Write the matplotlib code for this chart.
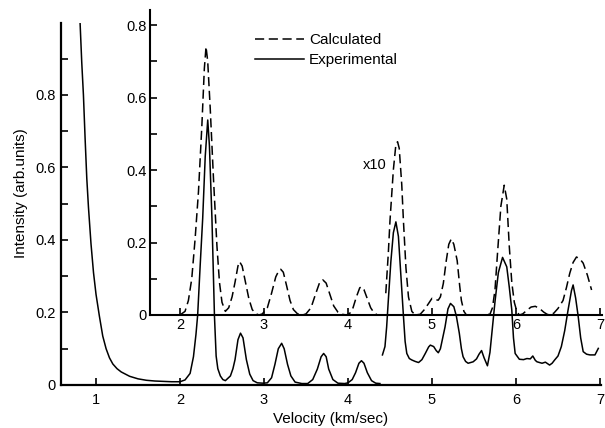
import matplotlib
matplotlib.use("Agg")
import matplotlib.pyplot as plt
from matplotlib.lines import Line2D

plt.rcParams['font.family'] = ['Liberation Sans', 'DejaVu Sans']

# ---------------- data ----------------
# Experimental, main axes (0 - 4.4 km/s)
exp_low_v = [0.81, 0.83, 0.85, 0.87, 0.89, 0.91, 0.94, 0.97, 1.00, 1.04, 1.08, 1.12, 1.16, 1.20,
             1.25, 1.30, 1.35, 1.40, 1.50, 1.60, 1.70, 1.80, 1.90, 2.00, 2.06, 2.12, 2.16, 2.19,
             2.21, 2.24, 2.27, 2.30, 2.33, 2.35, 2.38, 2.41, 2.43, 2.45, 2.48, 2.51, 2.54, 2.60,
             2.63, 2.655, 2.69, 2.72, 2.75, 2.79, 2.83, 2.87, 2.92, 2.99, 3.04, 3.09, 3.13, 3.17,
             3.21, 3.24, 3.28, 3.32, 3.37, 3.45, 3.52, 3.58, 3.635, 3.68, 3.71, 3.74, 3.77, 3.82,
             3.88, 3.96, 4.00, 4.05, 4.09, 4.13, 4.16, 4.19, 4.23, 4.28, 4.33, 4.38]
exp_low_i = [1.00, 0.89, 0.80, 0.68, 0.57, 0.49, 0.39, 0.31, 0.25, 0.19, 0.135, 0.10, 0.075, 0.058,
             0.045, 0.036, 0.030, 0.024, 0.017, 0.013, 0.011, 0.010, 0.009, 0.009, 0.014, 0.032, 0.078, 0.14,
             0.193, 0.33, 0.46, 0.63, 0.731, 0.66, 0.46, 0.19, 0.08, 0.045, 0.025, 0.015, 0.012, 0.025,
             0.045, 0.07, 0.125, 0.143, 0.13, 0.07, 0.03, 0.012, 0.006, 0.005, 0.006, 0.02, 0.057, 0.10,
             0.115, 0.10, 0.057, 0.025, 0.008, 0.004, 0.004, 0.015, 0.044, 0.078, 0.087, 0.078, 0.044, 0.015,
             0.005, 0.004, 0.006, 0.015, 0.034, 0.06, 0.067, 0.06, 0.034, 0.012, 0.005, 0.004]

# Experimental, x10 region (main axes)
exp_high_v = [4.41, 4.44, 4.46, 4.48, 4.51, 4.54, 4.57, 4.60, 4.63, 4.66, 4.68, 4.70, 4.73, 4.76,
              4.80, 4.84, 4.88, 4.92, 4.96, 4.98, 5.02, 5.05, 5.075, 5.10, 5.155, 5.19, 5.22, 5.26,
              5.29, 5.325, 5.35, 5.37, 5.40, 5.43, 5.46, 5.49, 5.53, 5.56, 5.59, 5.62, 5.66, 5.69,
              5.72, 5.75, 5.79, 5.84, 5.89, 5.92, 5.95, 5.97, 5.99, 6.04, 6.09, 6.13, 6.17, 6.20,
              6.23, 6.25, 6.28, 6.31, 6.35, 6.40, 6.43, 6.46, 6.50, 6.54, 6.58, 6.62, 6.66, 6.68,
              6.71, 6.74, 6.77, 6.80, 6.84, 6.88, 6.94, 6.98]
exp_high_i = [0.083, 0.106, 0.16, 0.234, 0.34, 0.42, 0.45, 0.41, 0.30, 0.19, 0.12, 0.087, 0.073, 0.069,
              0.065, 0.062, 0.07, 0.087, 0.105, 0.11, 0.106, 0.095, 0.089, 0.10, 0.16, 0.21, 0.225, 0.216,
              0.19, 0.143, 0.10, 0.078, 0.065, 0.06, 0.062, 0.064, 0.072, 0.085, 0.095, 0.075, 0.053, 0.09,
              0.16, 0.23, 0.31, 0.352, 0.326, 0.27, 0.207, 0.13, 0.087, 0.071, 0.07, 0.073, 0.072, 0.08,
              0.068, 0.064, 0.062, 0.06, 0.063, 0.055, 0.06, 0.069, 0.08, 0.106, 0.15, 0.207, 0.26, 0.276,
              0.24, 0.19, 0.13, 0.092, 0.085, 0.083, 0.083, 0.101]

# Calculated, inset axes (2 - 4.35 km/s)
calc_low_v = [2.00, 2.06, 2.10, 2.14, 2.18, 2.22, 2.26, 2.29, 2.31, 2.33, 2.36, 2.40, 2.44, 2.47,
              2.50, 2.54, 2.58, 2.62, 2.655, 2.69, 2.71, 2.74, 2.78, 2.82, 2.86, 2.90, 2.94, 2.98,
              3.04, 3.09, 3.14, 3.18, 3.20, 3.23, 3.27, 3.31, 3.35, 3.40, 3.46, 3.50, 3.56, 3.61,
              3.66, 3.70, 3.74, 3.78, 3.83, 3.88, 3.93, 3.98, 4.02, 4.06, 4.10, 4.14, 4.16, 4.19,
              4.23, 4.27, 4.31, 4.35]
calc_low_i = [0.0, 0.01, 0.04, 0.10, 0.21, 0.34, 0.52, 0.68, 0.74, 0.70, 0.57, 0.37, 0.19, 0.09,
              0.035, 0.01, 0.02, 0.05, 0.09, 0.135, 0.147, 0.135, 0.09, 0.045, 0.015, 0.004, 0.0, 0.003,
              0.02, 0.06, 0.105, 0.124, 0.126, 0.118, 0.08, 0.04, 0.015, 0.003, 0.0, 0.003, 0.02, 0.055,
              0.088, 0.097, 0.088, 0.06, 0.025, 0.008, 0.002, 0.0, 0.004, 0.02, 0.05, 0.075, 0.078, 0.07,
              0.045, 0.02, 0.006, 0.0]

# Calculated, x10 region (inset axes)
calc_high_v = [4.45, 4.48, 4.50, 4.54, 4.57, 4.59, 4.61, 4.64, 4.66, 4.69, 4.72, 4.76, 4.80, 4.86,
               4.91, 4.96, 5.00, 5.04, 5.075, 5.10, 5.135, 5.17, 5.20, 5.23, 5.26, 5.30, 5.33, 5.35,
               5.38, 5.41, 5.50, 5.60, 5.69, 5.72, 5.75, 5.78, 5.82, 5.86, 5.89, 5.92, 5.95, 5.98,
               6.01, 6.04, 6.08, 6.13, 6.18, 6.23, 6.28, 6.33, 6.37, 6.40, 6.45, 6.50, 6.56, 6.60,
               6.64, 6.68, 6.72, 6.76, 6.80, 6.85, 6.90]
calc_high_i = [0.06, 0.17, 0.26, 0.40, 0.47, 0.478, 0.46, 0.36, 0.26, 0.13, 0.05, 0.01, 0.0, 0.002,
               0.015, 0.032, 0.046, 0.042, 0.041, 0.05, 0.087, 0.15, 0.195, 0.21, 0.195, 0.15, 0.08, 0.04,
               0.01, 0.0, 0.0, 0.0, 0.002, 0.02, 0.069, 0.17, 0.30, 0.358, 0.32, 0.19, 0.09, 0.035,
               0.01, 0.0, 0.003, 0.013, 0.022, 0.024, 0.018, 0.008, 0.002, 0.0, 0.005, 0.018, 0.04, 0.075,
               0.115, 0.145, 0.16, 0.155, 0.143, 0.11, 0.069]

main_xticks = [1, 2, 3, 4, 5, 6, 7]
main_yticks = [0, 0.2, 0.4, 0.6, 0.8]
main_ytick_labels = ['0', '0.2', '0.4', '0.6', '0.8']
main_yminor = [0.1, 0.3, 0.5, 0.7, 0.9]
inset_xticks = [2, 3, 4, 5, 6, 7]
inset_yticks = [0, 0.2, 0.4, 0.6, 0.8]
inset_ytick_labels = ['0', '0.2', '0.4', '0.6', '0.8']
inset_yminor = [0.1, 0.3, 0.5, 0.7]
legend_labels = ['Calculated', 'Experimental']
x_label = 'Velocity (km/sec)'
y_label = 'Intensity (arb.units)'
scale_note = 'x10'

# ---------------- figure ----------------
W, H = 605, 428
fig = plt.figure(figsize=(W / 100, H / 100), dpi=100)
fig.patch.set_facecolor('white')

FS = 10.5
LW = 1.1
DASH = (6, 3)

ax = fig.add_axes([61 / W, 43 / H, 540 / W, 362 / H])
ax.plot(exp_low_v, exp_low_i, color='black', lw=LW)
ax.plot(exp_high_v, exp_high_i, color='black', lw=LW)
ax.set_xlim(0.583, 7.012)
ax.set_ylim(0, 0.9986)
for s in ['top', 'right']:
    ax.spines[s].set_visible(False)
for s in ['left', 'bottom']:
    ax.spines[s].set_linewidth(1.6)
ax.set_xticks(main_xticks)
ax.set_xticklabels([str(t) for t in main_xticks])
ax.set_yticks(main_yticks)
ax.set_yticklabels(main_ytick_labels)
ax.set_yticks(main_yminor, minor=True)
ax.tick_params(axis='both', which='both', direction='in', width=1.2, length=5, labelsize=FS)
ax.tick_params(axis='x', pad=6)
ax.tick_params(axis='y', pad=4)
ax.set_xlabel(x_label, fontsize=11)
ax.set_ylabel(y_label, fontsize=11)
ax.xaxis.set_label_coords(0.5, -0.075)
ax.yaxis.set_label_coords(-0.062, 0.53)

ax_in = fig.add_axes([150 / W, 113 / H, 452 / W, 305 / H])
ax_in.patch.set_alpha(0)
ax_in.plot(calc_low_v, calc_low_i, color='black', lw=LW, dashes=DASH)
ax_in.plot(calc_high_v, calc_high_i, color='black', lw=LW, dashes=DASH)
ax_in.set_xlim(1.643, 7.024)
ax_in.set_ylim(0, 0.8414)
for s in ['top', 'right']:
    ax_in.spines[s].set_visible(False)
for s in ['left', 'bottom']:
    ax_in.spines[s].set_linewidth(1.5)
ax_in.set_xticks(inset_xticks)
ax_in.set_xticklabels([str(t) for t in inset_xticks])
ax_in.set_yticks(inset_yticks)
ax_in.set_yticklabels(inset_ytick_labels)
ax_in.set_yticks(inset_yminor, minor=True)
ax_in.tick_params(axis='both', which='both', direction='in', width=1.2, length=5, labelsize=FS)
ax_in.tick_params(axis='x', pad=2.5)
ax_in.tick_params(axis='y', pad=2.5)

handles = [Line2D([], [], color='black', lw=LW, dashes=DASH),
           Line2D([], [], color='black', lw=LW)]
fig.legend(handles, legend_labels, loc='upper left', bbox_to_anchor=(255 / W, 1 - 33 / H),
           frameon=False, fontsize=11, handlelength=3.2, handletextpad=0.35,
           borderpad=0, borderaxespad=0, labelspacing=0.42)

fig.text(375 / W, 1 - 165 / H, scale_note, ha='center', va='center', fontsize=FS)

fig.savefig('out.png', dpi=100)
